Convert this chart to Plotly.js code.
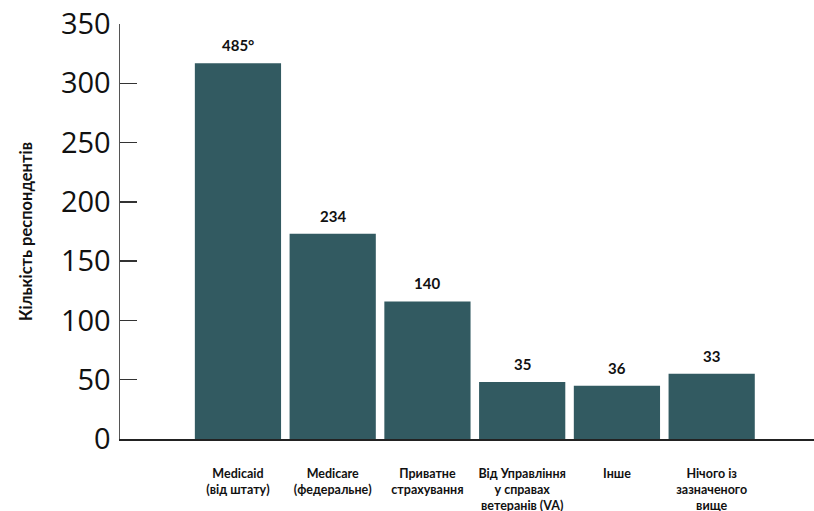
<!DOCTYPE html>
<html>
<head>
<meta charset="utf-8">
<script src="https://cdn.plot.ly/plotly-3.0.1.min.js"></script>
<style>html,body{margin:0;padding:0;background:#fff}#chart{width:814px;height:511px}</style>
</head>
<body>
<div id="chart"></div>
<script>
const categories = [
  "Medicaid<br>(від штату)",
  "Medicare<br>(федеральне)",
  "Приватне<br>страхування",
  "Від Управління<br>у справах<br>ветеранів (VA)",
  "Інше",
  "Нічого із<br>зазначеного<br>вище"
];
const barHeights = [317, 173, 116, 48, 45, 55];
const barLabels = ["485°", "234", "140", "35", "36", "33"];
const yTicks = [0, 50, 100, 150, 200, 250, 300, 350];

const barColor = "#325a61";

const trace = {
  type: "bar",
  x: categories,
  y: barHeights,
  marker: {color: barColor, line: {width: 0}},
  hoverinfo: "skip"
};

const annotations = categories.map((c, i) => ({
  x: c, y: barHeights[i], xref: "x", yref: "y",
  text: barLabels[i], showarrow: false,
  yanchor: "middle", yshift: 18,
  font: {family: "Lato", size: 15, color: "#111", weight: 700}
}));

const layout = {
  width: 814, height: 511,
  margin: {l: 120, r: 0, t: 24, b: 72, pad: 0},
  paper_bgcolor: "#fff", plot_bgcolor: "#fff",
  showlegend: false,
  bargap: 0.09,
  xaxis: {
    range: [-1.245, 6.08],
    showline: true, linecolor: "#222", linewidth: 1.5,
    ticks: "outside", ticklen: 22, tickcolor: "rgba(0,0,0,0)",
    tickfont: {family: "Lato", size: 12.5, color: "#111", weight: 700},
    showgrid: false, zeroline: false, fixedrange: true
  },
  yaxis: {
    range: [0, 350],
    tickvals: yTicks,
    showline: true, linecolor: "#555", linewidth: 1.5,
    ticks: "inside", ticklen: 17, tickcolor: "#333", tickwidth: 1.5,
    tickfont: {family: "Open Sans", size: 29, color: "#111"},
    ticklabelstandoff: 2,
    showgrid: false, zeroline: false,
    title: {text: "Кількість респондентів", standoff: 24,
            font: {family: "Lato", size: 16.5, color: "#111", weight: 700}}
  },
  annotations: annotations
};

Plotly.newPlot("chart", [trace], layout, {displayModeBar: false, staticPlot: true});
</script>
</body>
</html>
